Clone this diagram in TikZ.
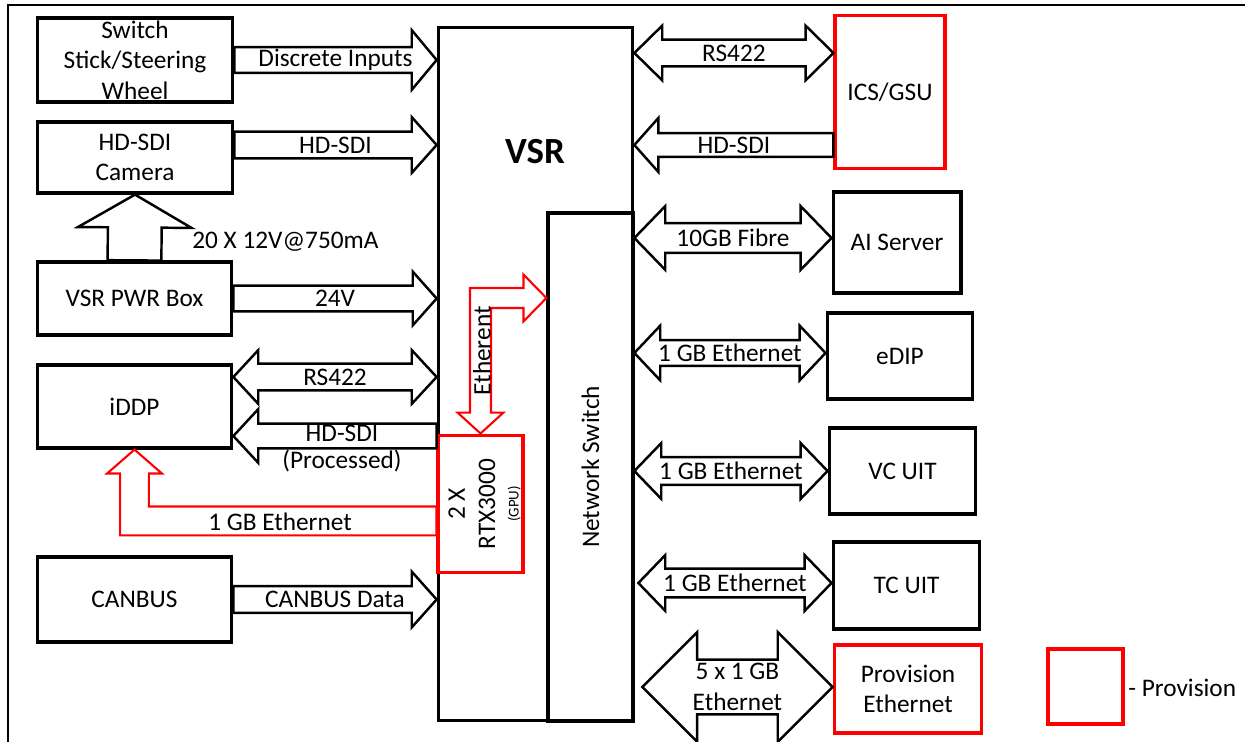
\documentclass[tikz,border=0pt]{standalone}
\usepackage{fontspec}
\setmainfont{Carlito}
\usetikzlibrary{calc}
\def\px{0.5669pt}
\tikzset{
  unit/.style={draw, line width=2pt, align=center, inner sep=0pt,
    font=\fontsize{14.4}{17.3}\selectfont},
  provunit/.style={unit, draw=red},
  barrow/.style={draw, line width=1.4pt, line join=miter},
  rarrow/.style={draw=red, line width=1.2pt, line join=miter},
  lbl/.style={inner sep=0pt, align=center, font=\fontsize{14.4}{17.3}\selectfont}
}
% block arrow: [style]{from}{to}{shaft half}{head half}{head length}{label}
\newcommand{\blockarrow}[7][]{%
  \draw[barrow,#1] let \p1=#2, \p2=#3,
      \n1={atan2(\y2-\y1,\x2-\x1)}, \n2={veclen(\x2-\x1,\y2-\y1)} in
    [shift={(\p1)}, rotate=\n1]
    (0pt,{#4*\px}) -- ({\n2-#6*\px},{#4*\px}) -- ({\n2-#6*\px},{#5*\px})
    -- (\n2,0pt) -- ({\n2-#6*\px},{-#5*\px}) -- ({\n2-#6*\px},{-#4*\px})
    -- (0pt,{-#4*\px}) -- cycle
    ({\n2/2},0pt) node[lbl]{#7};}
% double block arrow, same arguments
\newcommand{\dblockarrow}[7][]{%
  \draw[barrow,#1] let \p1=#2, \p2=#3,
      \n1={atan2(\y2-\y1,\x2-\x1)}, \n2={veclen(\x2-\x1,\y2-\y1)} in
    [shift={(\p1)}, rotate=\n1]
    (0pt,0pt) -- ({#6*\px},{#5*\px}) -- ({#6*\px},{#4*\px})
    -- ({\n2-#6*\px},{#4*\px}) -- ({\n2-#6*\px},{#5*\px})
    -- (\n2,0pt) -- ({\n2-#6*\px},{-#5*\px}) -- ({\n2-#6*\px},{-#4*\px})
    -- ({#6*\px},{-#4*\px}) -- ({#6*\px},{-#5*\px}) -- cycle
    ({\n2/2},0pt) node[lbl]{#7};}
\begin{document}
\begin{tikzpicture}[x=0.02cm,y=-0.02cm]
\useasboundingbox (0,0) rectangle (1245,742);
% frame
\draw[line width=1.1pt] (8,742) -- (8,5) -- (1245,5);

% left column
\node[unit, minimum width=196*\px, minimum height=84*\px] (sw) at (135,60) {Switch\\Stick/Steering\\Wheel};
\node[unit, minimum width=196*\px, minimum height=71*\px] (cam) at (135,157.5) {HD-SDI\\Camera};
\node[unit, minimum width=195*\px, minimum height=73*\px] (pwr) at (134.5,298.5) {VSR PWR Box};
\node[unit, minimum width=195*\px, minimum height=83*\px] (iddp) at (134.5,406.5) {iDDP};
\node[unit, minimum width=195*\px, minimum height=85*\px] (canbus) at (134.5,599.5) {CANBUS};

% VSR
\node[unit, minimum width=195*\px, minimum height=696*\px] (vsr) at (535.5,374) {};
\node[font=\bfseries\fontsize{21}{25}\selectfont] (vsrlbl) at (535,152) {VSR};
\node[unit, minimum width=85*\px, minimum height=510*\px] (nsw) at (590.5,467) {};
\node[lbl, rotate=90] (nswlbl) at (nsw.center) {Network Switch};
\node[provunit, minimum width=85*\px, minimum height=138*\px] (gpu) at (480.5,504) {};
\node[lbl, rotate=90] (gpulbl) at ($(gpu.center)+(4,0)$) {2 X\\RTX3000\\[-4pt]{\fontsize{8.5}{9}\selectfont (GPU)}};

% right column
\node[provunit, minimum width=110*\px, minimum height=154*\px] (ics) at (890,92) {ICS/GSU};
\node[unit, minimum width=128*\px, minimum height=101*\px] (ai) at (897,242.5) {AI Server};
\node[unit, minimum width=146*\px, minimum height=86*\px] (edip) at (900,356) {eDIP};
\node[unit, minimum width=147*\px, minimum height=86*\px] (vc) at (902.5,471) {VC UIT};
\node[unit, minimum width=147*\px, minimum height=87*\px] (tc) at (906.5,585.5) {TC UIT};
\node[provunit, minimum width=148*\px, minimum height=88*\px] (prov) at (908,689) {Provision\\Ethernet};

% left arrows
\blockarrow{(sw.east)}{(vsr.west |- sw.east)}{13}{30}{25}{Discrete Inputs}
\blockarrow{(cam.east |- 0,145)}{(vsr.west |- 0,145)}{13.5}{28}{25}{HD-SDI}
\blockarrow{(pwr.north)}{(cam.south)}{27}{57}{33}{}
\node[lbl, anchor=west] (pwrlbl) at (192,242) {20 X 12V@750mA};
\blockarrow{(pwr.east)}{(vsr.west |- pwr.east)}{13}{27}{24}{24V}
\dblockarrow{(iddp.east |- 0,377)}{(vsr.west |- 0,377)}{13.5}{27}{25}{RS422}
\blockarrow{(vsr.west |- 0,436)}{(iddp.east |- 0,436)}{12.5}{27}{25}{}
\node[lbl, font=\fontsize{14.4}{15.4}\selectfont] (procl) at (342,449) {HD-SDI\\(Processed)};
\blockarrow{(canbus.east)}{(vsr.west |- canbus.east)}{13.5}{28}{25}{CANBUS Data}

% right arrows
\dblockarrow{(vsr.east |- 0,53)}{(ics.west |- 0,53)}{13.5}{27.5}{28}{RS422}
\blockarrow{(ics.west |- 0,145)}{(vsr.east |- 0,145)}{12}{27}{24}{HD-SDI}
\dblockarrow{(vsr.east |- 0,238)}{(ai.west |- 0,238)}{15}{32}{31}{10GB Fibre}
\dblockarrow{(vsr.east |- 0,353)}{(edip.west |- 0,353)}{13}{27.5}{26}{1 GB Ethernet}
\dblockarrow{(vsr.east |- vc.west)}{(vc.west)}{14}{28}{27}{1 GB Ethernet}
\dblockarrow{($(vsr.east |- 0,583)+(4,0)$)}{(tc.west |- 0,583)}{14.5}{28}{27}{1 GB Ethernet}
\dblockarrow{($(vsr.east |- 0,687)+(8,0)$)}{(prov.west |- 0,687)}{27.5}{55}{55}{5 x 1 GB\\Ethernet}

% red links of the GPU
\draw[rarrow] let \p1=(gpu.north), \p2=(nsw.west |- 0,298) in
  (\x1,\y1) -- ({\x1+23*\px},{\y1+21*\px}) -- ({\x1+10.5*\px},{\y1+21*\px})
  -- ({\x1+10.5*\px},{\y2-10*\px}) -- ({\x2-23*\px},{\y2-10*\px})
  -- ({\x2-23*\px},{\y2-23.5*\px}) -- (\x2,\y2) -- ({\x2-23*\px},{\y2+23.5*\px})
  -- ({\x2-23*\px},{\y2+10*\px}) -- ({\x1-10.5*\px},{\y2+10*\px})
  -- ({\x1-10.5*\px},{\y1+21*\px}) -- ({\x1-23*\px},{\y1+21*\px}) -- cycle;
\node[lbl, rotate=90] (ethlbl) at (482,351) {Etherent};
\draw[rarrow] let \p1=(gpu.west |- 0,521), \p2=(iddp.south) in
  (\x2,\y2) -- ({\x2+27.5*\px},{\y2-24*\px}) -- ({\x2+14.5*\px},{\y2-24*\px})
  -- ({\x2+14.5*\px},{\y1+14.5*\px}) -- ({\x1},{\y1+14.5*\px})
  -- ({\x1},{\y1-14.5*\px}) -- ({\x2-14.5*\px},{\y1-14.5*\px})
  -- ({\x2-14.5*\px},{\y2-24*\px}) -- ({\x2-27.5*\px},{\y2-24*\px}) -- cycle;
\node[lbl] (gbl) at (280,522) {1 GB Ethernet};

% legend
\node[provunit, minimum width=75*\px, minimum height=75*\px] (legbox) at (1085.5,686.5) {};
\node[lbl, anchor=west] (legtxt) at (1128,688) {- Provision};
\end{tikzpicture}
\end{document}
